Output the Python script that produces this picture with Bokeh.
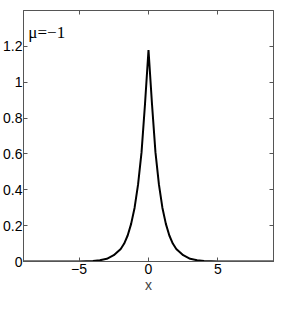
from bokeh.plotting import figure
from bokeh.models import (FixedTicker, CustomJSTickFormatter, LinearAxis, Label, Range1d)
from bokeh.embed import file_html
from bokeh.resources import INLINE

# data (right half; mirrored for the left)
x_half = [0.0, 0.25, 0.5, 0.75, 1.0, 1.25, 1.5, 1.75, 2.0, 2.5, 3.0, 3.5, 4.0, 5.0, 6.0, 7.0, 8.0, 9.0]
y_half = [1.18, 0.88, 0.61, 0.43, 0.30, 0.21, 0.145, 0.10, 0.07, 0.035, 0.015, 0.007, 0.003, 0.0005, 0.0, 0.0, 0.0, 0.0]

xs = [-v for v in reversed(x_half[1:])] + x_half
ys = list(reversed(y_half[1:])) + y_half

x_ticks = [-5, 0, 5]
y_ticks = [0, 0.2, 0.4, 0.6, 0.8, 1.0, 1.2]
annot = "\u03bc=\u22121"

p = figure(width=275, height=295, output_backend="svg", toolbar_location=None,
           x_range=Range1d(-9, 9), y_range=Range1d(0, 1.4),
           min_border_left=0, min_border_right=2, min_border_top=10, min_border_bottom=0)
p.xgrid.visible = False
p.ygrid.visible = False
p.outline_line_color = "#555555"

p.line(xs, ys, line_color="black", line_width=2)

fmt_x = CustomJSTickFormatter(code="return tick < 0 ? '\\u2212' + Math.abs(tick) : String(tick);")
fmt_y = CustomJSTickFormatter(code="return tick.toFixed(1).replace(/\\.0$/, '');")
blank = CustomJSTickFormatter(code="return '';")

def style(ax, ticks, fmt):
    ax.ticker = FixedTicker(ticks=ticks)
    ax.formatter = fmt
    ax.minor_tick_line_color = None
    ax.major_tick_in = 4
    ax.major_tick_out = 0
    ax.axis_line_color = "#555555"
    ax.major_tick_line_color = "#555555"
    ax.major_label_text_font = "Liberation Sans"
    ax.major_label_text_font_size = "14px"
    ax.major_label_text_color = "black"
    ax.major_label_standoff = 2

style(p.xaxis[0], x_ticks, fmt_x)
style(p.yaxis[0], y_ticks, fmt_y)
p.yaxis[0].major_label_standoff = 1
p.xaxis[0].axis_label = "x"
p.xaxis[0].axis_label_text_font = "Liberation Sans"
p.xaxis[0].axis_label_text_font_size = "14px"
p.xaxis[0].axis_label_text_font_style = "normal"
p.xaxis[0].axis_label_standoff = 0

top = LinearAxis()
style(top, x_ticks, blank)
top.major_label_standoff = 0
p.add_layout(top, "above")
right = LinearAxis()
style(right, y_ticks, blank)
right.major_label_standoff = 0
p.add_layout(right, "right")

p.add_layout(Label(x=-8.65, y=1.275, text=annot, text_font="Liberation Serif",
                   text_font_size="17px", text_baseline="alphabetic", text_color="black"))

open("out.html", "w").write(file_html(p, INLINE))
